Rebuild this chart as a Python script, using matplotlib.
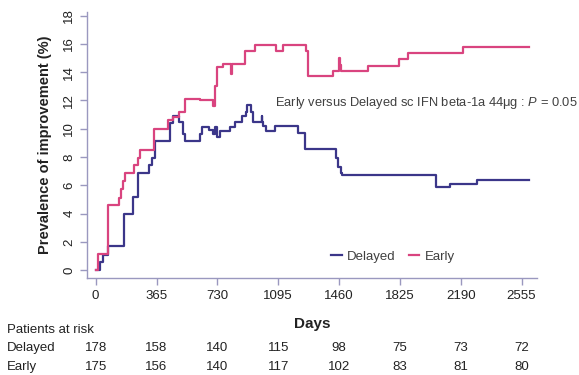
import numpy as np
import matplotlib
matplotlib.use('Agg')
import matplotlib.pyplot as plt
from matplotlib.lines import Line2D
import matplotlib.transforms as mtransforms

plt.rcParams['font.family'] = ['Liberation Sans', 'DejaVu Sans']
plt.rcParams['mathtext.fontset'] = 'custom'
plt.rcParams['mathtext.rm'] = 'Liberation Sans'
plt.rcParams['mathtext.it'] = 'Liberation Sans:italic'

# step curves (days, % improved)
early_days = [0, 12, 72, 140, 152, 162, 178, 232, 252, 268, 350, 432, 466, 500, 536,
              626, 706, 718, 730, 762, 810, 820, 896, 958, 1082, 1126, 1262, 1276,
              1422, 1458, 1464, 1470, 1636, 1820, 1876, 2206, 2602]
early_vals = [0, 1.15, 4.6, 5.1, 5.75, 6.3, 6.9, 7.45, 7.95, 8.5, 10.0, 10.6, 10.85, 11.15, 12.1,
              12.0, 11.6, 13.0, 14.35, 14.6, 13.9, 14.6, 15.5, 15.95, 15.5, 15.95, 15.5, 13.75,
              14.05, 15.0, 14.5, 14.05, 14.45, 14.9, 15.35, 15.8, 15.8]

delayed_days = [0, 26, 42, 76, 170, 226, 256, 322, 336, 356, 446, 462, 502, 522, 538,
                626, 636, 682, 706, 716, 726, 746, 806, 836, 876, 902, 910, 930, 946,
                996, 1000, 1006, 1020, 1076, 1216, 1256, 1442, 1456, 1470, 1476, 2042,
                2126, 2290, 2602]
delayed_vals = [0, 0.6, 1.1, 1.7, 4.0, 5.2, 6.9, 7.45, 7.95, 9.15, 10.4, 10.9, 10.5, 9.6, 9.15,
                9.6, 10.1, 9.9, 9.6, 10.1, 9.4, 9.85, 10.1, 10.5, 10.9, 11.2, 11.65, 11.2, 10.5,
                10.9, 10.5, 10.2, 9.85, 10.2, 9.7, 8.6, 7.95, 7.3, 6.9, 6.75, 5.9,
                6.1, 6.35, 6.35]

xticks = [0, 365, 730, 1095, 1460, 1825, 2190, 2555]
risk_delayed = [178, 158, 140, 115, 98, 75, 73, 72]
risk_early = [175, 156, 140, 117, 102, 83, 81, 80]

c_delayed = '#3b3689'
c_early = '#d9447f'
c_axis = '#9a98bf'
c_text = '#222222'

fig = plt.figure(figsize=(5.79, 3.75), dpi=100)
ax = fig.add_axes([87/579, 1-278/375, (537-87)/579, (278-12)/375])

ax.step(delayed_days, delayed_vals, where='post', color=c_delayed, lw=1.6)
ax.step(early_days, early_vals, where='post', color=c_early, lw=1.6)

ax.set_xlim(-52, 2648)
ax.set_ylim(-0.55, 18.25)
ax.set_xticks(xticks)
ax.set_yticks(np.arange(0, 19, 2))
ax.set_yticklabels([str(v) for v in range(0, 19, 2)], rotation=90, va='center')

for s in ['top', 'right']:
    ax.spines[s].set_visible(False)
for s in ['left', 'bottom']:
    ax.spines[s].set_color(c_axis)
    ax.spines[s].set_linewidth(1.0)
ax.tick_params(colors=c_axis, length=5, width=1.0, labelcolor=c_text, labelsize=9.5)

ax.set_ylabel('Prevalence of improvement (%)', fontsize=10.5, fontweight='bold',
              color=c_text, labelpad=8)
ax.set_xlabel('Days', fontsize=11, fontweight='bold', color=c_text, labelpad=11)

ax.text(1075, 11.8, 'Early versus Delayed sc IFN beta-1a 44\u03bcg : $P$ = 0.05',
        fontsize=9.3, color='#404040', va='center', ha='left', clip_on=False)

handles = [Line2D([], [], color=c_delayed, lw=1.6), Line2D([], [], color=c_early, lw=1.6)]
ax.legend(handles, ['Delayed', 'Early'], loc='center', bbox_to_anchor=(0.68, 0.08),
          ncol=2, frameon=False, handlelength=0.8, handletextpad=0.4, columnspacing=1.0,
          fontsize=9.5, labelcolor='#404040')

# patients-at-risk table
trans = mtransforms.blended_transform_factory(ax.transData, fig.transFigure)
fig.text(7/579, 1-330/375, 'Patients at risk', fontsize=9.5, color=c_text, va='center')
fig.text(7/579, 1-348/375, 'Delayed', fontsize=9.5, color=c_text, va='center')
fig.text(7/579, 1-367/375, 'Early', fontsize=9.5, color=c_text, va='center')
for x, d, e in zip(xticks, risk_delayed, risk_early):
    ax.text(x, 1-348/375, str(d), transform=trans, ha='center', va='center',
            fontsize=9.5, color=c_text, clip_on=False)
    ax.text(x, 1-367/375, str(e), transform=trans, ha='center', va='center',
            fontsize=9.5, color=c_text, clip_on=False)

fig.savefig('out.png', dpi=100)
